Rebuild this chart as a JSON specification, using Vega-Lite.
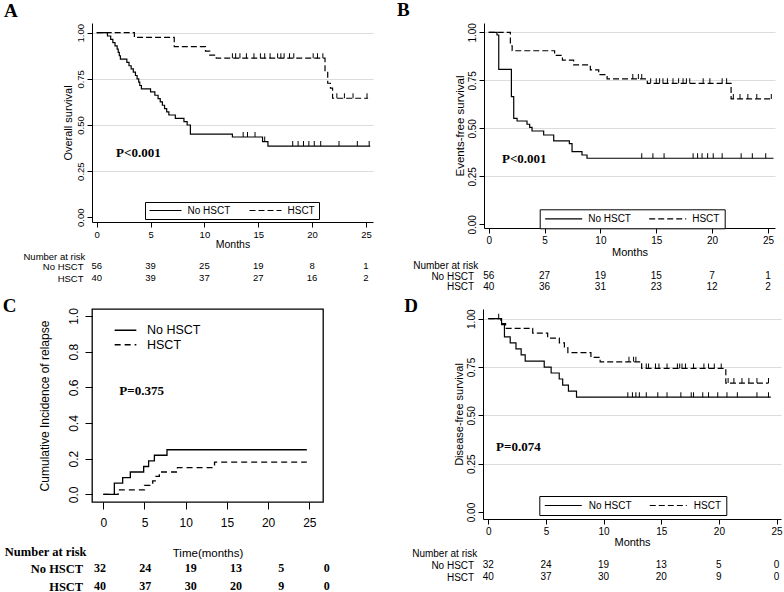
{
  "$schema": "https://vega.github.io/schema/vega-lite/v6.json",
  "background": "white",
  "padding": {"left": 2, "top": 0, "right": 0, "bottom": 0},
  "config": {
    "view": {"stroke": null},
    "font": "Liberation Sans",
    "axis": {"labelColor": "black", "titleColor": "black", "domainColor": "black", "tickColor": "black", "labelFont": "Liberation Sans", "titleFont": "Liberation Sans", "titleFontWeight": "normal", "labelFlush": false, "labelOverlap": false, "grid": false, "domainWidth": 1, "tickWidth": 1},
    "legend": {"labelColor": "black", "labelFont": "Liberation Sans", "gridAlign": "none"},
    "title": {"font": "Liberation Serif", "fontWeight": "bold", "fontSize": 19, "anchor": "start", "frame": "group", "color": "black", "baseline": "alphabetic"},
    "text": {"color": "black"}
  },
  "datasets": {
    "A_curve": [
      {"group": "No HSCT", "time": 0, "surv": 1}, {"group": "No HSCT", "time": 1.0, "surv": 0.982}, {"group": "No HSCT", "time": 1.3, "surv": 0.964}, {"group": "No HSCT", "time": 1.5, "surv": 0.946}, {"group": "No HSCT", "time": 1.7, "surv": 0.929}, {"group": "No HSCT", "time": 1.9, "surv": 0.911}, {"group": "No HSCT", "time": 2.0, "surv": 0.893}, {"group": "No HSCT", "time": 2.1, "surv": 0.875}, {"group": "No HSCT", "time": 2.2, "surv": 0.857}, {"group": "No HSCT", "time": 2.8, "surv": 0.839}, {"group": "No HSCT", "time": 3.0, "surv": 0.821}, {"group": "No HSCT", "time": 3.2, "surv": 0.804}, {"group": "No HSCT", "time": 3.4, "surv": 0.786}, {"group": "No HSCT", "time": 3.6, "surv": 0.768}, {"group": "No HSCT", "time": 3.75, "surv": 0.75}, {"group": "No HSCT", "time": 3.9, "surv": 0.732}, {"group": "No HSCT", "time": 4.0, "surv": 0.714}, {"group": "No HSCT", "time": 4.15, "surv": 0.696}, {"group": "No HSCT", "time": 5.0, "surv": 0.679}, {"group": "No HSCT", "time": 5.4, "surv": 0.661}, {"group": "No HSCT", "time": 5.7, "surv": 0.643}, {"group": "No HSCT", "time": 5.9, "surv": 0.625}, {"group": "No HSCT", "time": 6.1, "surv": 0.607}, {"group": "No HSCT", "time": 6.3, "surv": 0.589}, {"group": "No HSCT", "time": 6.5, "surv": 0.571}, {"group": "No HSCT", "time": 6.7, "surv": 0.554}, {"group": "No HSCT", "time": 7.3, "surv": 0.536}, {"group": "No HSCT", "time": 8.1, "surv": 0.518}, {"group": "No HSCT", "time": 8.4, "surv": 0.5}, {"group": "No HSCT", "time": 8.7, "surv": 0.45}, {"group": "No HSCT", "time": 12.6, "surv": 0.435}, {"group": "No HSCT", "time": 15.4, "surv": 0.41}, {"group": "No HSCT", "time": 15.9, "surv": 0.386}, {"group": "No HSCT", "time": 25.4, "surv": 0.386},
      {"group": "HSCT", "time": 0, "surv": 1}, {"group": "HSCT", "time": 3.5, "surv": 0.975}, {"group": "HSCT", "time": 7.2, "surv": 0.925}, {"group": "HSCT", "time": 10.1, "surv": 0.9}, {"group": "HSCT", "time": 10.5, "surv": 0.878}, {"group": "HSCT", "time": 11.1, "surv": 0.862}, {"group": "HSCT", "time": 21.2, "surv": 0.79}, {"group": "HSCT", "time": 21.45, "surv": 0.726}, {"group": "HSCT", "time": 21.7, "surv": 0.7}, {"group": "HSCT", "time": 21.9, "surv": 0.645}, {"group": "HSCT", "time": 25.2, "surv": 0.645}
    ],
    "A_cens": [
      {"time": 13.6, "surv": 0.435}, {"time": 14.0, "surv": 0.435}, {"time": 14.7, "surv": 0.435}, {"time": 15.6, "surv": 0.41}, {"time": 18.2, "surv": 0.386}, {"time": 18.7, "surv": 0.386}, {"time": 19.2, "surv": 0.386}, {"time": 19.7, "surv": 0.386}, {"time": 20.2, "surv": 0.386}, {"time": 20.8, "surv": 0.386}, {"time": 22.5, "surv": 0.386}, {"time": 24.2, "surv": 0.386}, {"time": 25.3, "surv": 0.386},
      {"time": 12.6, "surv": 0.862}, {"time": 12.9, "surv": 0.862}, {"time": 13.3, "surv": 0.862}, {"time": 13.9, "surv": 0.862}, {"time": 14.6, "surv": 0.862}, {"time": 15.2, "surv": 0.862}, {"time": 15.6, "surv": 0.862}, {"time": 16.1, "surv": 0.862}, {"time": 16.8, "surv": 0.862}, {"time": 17.1, "surv": 0.862}, {"time": 17.4, "surv": 0.862}, {"time": 17.9, "surv": 0.862}, {"time": 18.3, "surv": 0.862}, {"time": 20.1, "surv": 0.862}, {"time": 20.5, "surv": 0.862}, {"time": 21.0, "surv": 0.862}, {"time": 22.3, "surv": 0.645}, {"time": 23.0, "surv": 0.645}, {"time": 23.8, "surv": 0.645}, {"time": 25.1, "surv": 0.645}
    ],
    "A_risk": [
      {"group": "No HSCT", "time": 0, "n": 56}, {"group": "No HSCT", "time": 5, "n": 39}, {"group": "No HSCT", "time": 10, "n": 25}, {"group": "No HSCT", "time": 15, "n": 19}, {"group": "No HSCT", "time": 20, "n": 8}, {"group": "No HSCT", "time": 25, "n": 1},
      {"group": "HSCT", "time": 0, "n": 40}, {"group": "HSCT", "time": 5, "n": 39}, {"group": "HSCT", "time": 10, "n": 37}, {"group": "HSCT", "time": 15, "n": 27}, {"group": "HSCT", "time": 20, "n": 16}, {"group": "HSCT", "time": 25, "n": 2}
    ],
    "B_curve": [
      {"group": "No HSCT", "time": 0, "surv": 1}, {"group": "No HSCT", "time": 0.74, "surv": 0.986}, {"group": "No HSCT", "time": 0.9, "surv": 0.807}, {"group": "No HSCT", "time": 2.03, "surv": 0.665}, {"group": "No HSCT", "time": 2.24, "surv": 0.552}, {"group": "No HSCT", "time": 2.54, "surv": 0.538}, {"group": "No HSCT", "time": 3.43, "surv": 0.521}, {"group": "No HSCT", "time": 3.67, "surv": 0.505}, {"group": "No HSCT", "time": 3.88, "surv": 0.486}, {"group": "No HSCT", "time": 4.92, "surv": 0.465}, {"group": "No HSCT", "time": 5.82, "surv": 0.434}, {"group": "No HSCT", "time": 7.22, "surv": 0.42}, {"group": "No HSCT", "time": 7.46, "surv": 0.378}, {"group": "No HSCT", "time": 8.35, "surv": 0.361}, {"group": "No HSCT", "time": 8.8, "surv": 0.344}, {"group": "No HSCT", "time": 25.5, "surv": 0.344},
      {"group": "HSCT", "time": 0, "surv": 1}, {"group": "HSCT", "time": 1.94, "surv": 0.93}, {"group": "HSCT", "time": 2.1, "surv": 0.904}, {"group": "HSCT", "time": 5.9, "surv": 0.88}, {"group": "HSCT", "time": 6.6, "surv": 0.855}, {"group": "HSCT", "time": 7.6, "surv": 0.83}, {"group": "HSCT", "time": 9.1, "surv": 0.804}, {"group": "HSCT", "time": 9.85, "surv": 0.78}, {"group": "HSCT", "time": 10.6, "surv": 0.757}, {"group": "HSCT", "time": 14.2, "surv": 0.734}, {"group": "HSCT", "time": 21.7, "surv": 0.653}, {"group": "HSCT", "time": 25.4, "surv": 0.653}
    ],
    "B_cens": [
      {"time": 13.7, "surv": 0.344}, {"time": 14.7, "surv": 0.344}, {"time": 15.7, "surv": 0.344}, {"time": 18.3, "surv": 0.344}, {"time": 18.7, "surv": 0.344}, {"time": 19.1, "surv": 0.344}, {"time": 19.6, "surv": 0.344}, {"time": 20.1, "surv": 0.344}, {"time": 20.9, "surv": 0.344}, {"time": 22.6, "surv": 0.344}, {"time": 23.6, "surv": 0.344}, {"time": 24.8, "surv": 0.344},
      {"time": 12.9, "surv": 0.757}, {"time": 13.4, "surv": 0.757}, {"time": 13.7, "surv": 0.757}, {"time": 14.5, "surv": 0.734}, {"time": 15.0, "surv": 0.734}, {"time": 15.3, "surv": 0.734}, {"time": 15.6, "surv": 0.734}, {"time": 16.0, "surv": 0.734}, {"time": 16.5, "surv": 0.734}, {"time": 17.0, "surv": 0.734}, {"time": 17.4, "surv": 0.734}, {"time": 17.7, "surv": 0.734}, {"time": 18.0, "surv": 0.734}, {"time": 19.2, "surv": 0.734}, {"time": 19.8, "surv": 0.734}, {"time": 20.9, "surv": 0.734}, {"time": 21.3, "surv": 0.734}, {"time": 21.9, "surv": 0.653}, {"time": 22.5, "surv": 0.653}, {"time": 23.2, "surv": 0.653}, {"time": 24.0, "surv": 0.653}, {"time": 25.3, "surv": 0.653}
    ],
    "B_risk": [
      {"group": "No HSCT", "time": 0, "n": 56}, {"group": "No HSCT", "time": 5, "n": 27}, {"group": "No HSCT", "time": 10, "n": 19}, {"group": "No HSCT", "time": 15, "n": 15}, {"group": "No HSCT", "time": 20, "n": 7}, {"group": "No HSCT", "time": 25, "n": 1},
      {"group": "HSCT", "time": 0, "n": 40}, {"group": "HSCT", "time": 5, "n": 36}, {"group": "HSCT", "time": 10, "n": 31}, {"group": "HSCT", "time": 15, "n": 23}, {"group": "HSCT", "time": 20, "n": 12}, {"group": "HSCT", "time": 25, "n": 2}
    ],
    "C_curve": [
      {"group": "No HSCT", "time": 0, "surv": 0}, {"group": "No HSCT", "time": 1.34, "surv": 0.0625}, {"group": "No HSCT", "time": 2.35, "surv": 0.094}, {"group": "No HSCT", "time": 3.28, "surv": 0.125}, {"group": "No HSCT", "time": 4.9, "surv": 0.156}, {"group": "No HSCT", "time": 5.5, "surv": 0.1875}, {"group": "No HSCT", "time": 6.2, "surv": 0.219}, {"group": "No HSCT", "time": 7.73, "surv": 0.25}, {"group": "No HSCT", "time": 24.7, "surv": 0.25},
      {"group": "HSCT", "time": 0, "surv": 0}, {"group": "HSCT", "time": 1.8, "surv": 0.025}, {"group": "HSCT", "time": 5.0, "surv": 0.05}, {"group": "HSCT", "time": 6.0, "surv": 0.075}, {"group": "HSCT", "time": 6.4, "surv": 0.1}, {"group": "HSCT", "time": 6.8, "surv": 0.125}, {"group": "HSCT", "time": 9.0, "surv": 0.15}, {"group": "HSCT", "time": 13.5, "surv": 0.18}, {"group": "HSCT", "time": 24.7, "surv": 0.18}
    ],
    "C_risk": [
      {"group": "No HSCT", "time": 0, "n": 32}, {"group": "No HSCT", "time": 5, "n": 24}, {"group": "No HSCT", "time": 10, "n": 19}, {"group": "No HSCT", "time": 15, "n": 13}, {"group": "No HSCT", "time": 20, "n": 5}, {"group": "No HSCT", "time": 25, "n": 0},
      {"group": "HSCT", "time": 0, "n": 40}, {"group": "HSCT", "time": 5, "n": 37}, {"group": "HSCT", "time": 10, "n": 30}, {"group": "HSCT", "time": 15, "n": 20}, {"group": "HSCT", "time": 20, "n": 9}, {"group": "HSCT", "time": 25, "n": 0}
    ],
    "D_curve": [
      {"group": "No HSCT", "time": 0, "surv": 1}, {"group": "No HSCT", "time": 1.15, "surv": 0.969}, {"group": "No HSCT", "time": 1.4, "surv": 0.906}, {"group": "No HSCT", "time": 1.9, "surv": 0.875}, {"group": "No HSCT", "time": 2.4, "surv": 0.844}, {"group": "No HSCT", "time": 2.85, "surv": 0.813}, {"group": "No HSCT", "time": 3.2, "surv": 0.781}, {"group": "No HSCT", "time": 4.85, "surv": 0.75}, {"group": "No HSCT", "time": 5.45, "surv": 0.719}, {"group": "No HSCT", "time": 6.15, "surv": 0.688}, {"group": "No HSCT", "time": 6.45, "surv": 0.656}, {"group": "No HSCT", "time": 6.95, "surv": 0.625}, {"group": "No HSCT", "time": 7.65, "surv": 0.594}, {"group": "No HSCT", "time": 24.5, "surv": 0.594},
      {"group": "HSCT", "time": 0, "surv": 1}, {"group": "HSCT", "time": 1.1, "surv": 0.975}, {"group": "HSCT", "time": 1.5, "surv": 0.95}, {"group": "HSCT", "time": 3.85, "surv": 0.925}, {"group": "HSCT", "time": 5.15, "surv": 0.9}, {"group": "HSCT", "time": 6.16, "surv": 0.875}, {"group": "HSCT", "time": 6.6, "surv": 0.85}, {"group": "HSCT", "time": 6.9, "surv": 0.825}, {"group": "HSCT", "time": 8.9, "surv": 0.8}, {"group": "HSCT", "time": 9.7, "surv": 0.777}, {"group": "HSCT", "time": 13.3, "surv": 0.743}, {"group": "HSCT", "time": 20.6, "surv": 0.667}, {"group": "HSCT", "time": 24.3, "surv": 0.667}
    ],
    "D_cens": [
      {"time": 12.1, "surv": 0.594}, {"time": 12.5, "surv": 0.594}, {"time": 12.8, "surv": 0.594}, {"time": 13.1, "surv": 0.594}, {"time": 13.7, "surv": 0.594}, {"time": 14.7, "surv": 0.594}, {"time": 15.5, "surv": 0.594}, {"time": 16.7, "surv": 0.594}, {"time": 17.6, "surv": 0.594}, {"time": 17.8, "surv": 0.594}, {"time": 18.6, "surv": 0.594}, {"time": 19.1, "surv": 0.594}, {"time": 19.9, "surv": 0.594}, {"time": 20.7, "surv": 0.594}, {"time": 21.6, "surv": 0.594}, {"time": 23.3, "surv": 0.594}, {"time": 24.3, "surv": 0.594},
      {"time": 0.9, "surv": 1}, {"time": 12.2, "surv": 0.777}, {"time": 12.6, "surv": 0.777}, {"time": 12.8, "surv": 0.777}, {"time": 13.7, "surv": 0.743}, {"time": 13.9, "surv": 0.743}, {"time": 14.5, "surv": 0.743}, {"time": 14.8, "surv": 0.743}, {"time": 15.5, "surv": 0.743}, {"time": 16.4, "surv": 0.743}, {"time": 16.6, "surv": 0.743}, {"time": 16.8, "surv": 0.743}, {"time": 17.1, "surv": 0.743}, {"time": 17.8, "surv": 0.743}, {"time": 18.7, "surv": 0.743}, {"time": 19.1, "surv": 0.743}, {"time": 19.6, "surv": 0.743}, {"time": 20.2, "surv": 0.743}, {"time": 20.8, "surv": 0.667}, {"time": 21.3, "surv": 0.667}, {"time": 22.0, "surv": 0.667}, {"time": 22.6, "surv": 0.667}, {"time": 23.3, "surv": 0.667}, {"time": 24.3, "surv": 0.667}
    ],
    "D_risk": [
      {"group": "No HSCT", "time": 0, "n": 32}, {"group": "No HSCT", "time": 5, "n": 24}, {"group": "No HSCT", "time": 10, "n": 19}, {"group": "No HSCT", "time": 15, "n": 13}, {"group": "No HSCT", "time": 20, "n": 5}, {"group": "No HSCT", "time": 25, "n": 0},
      {"group": "HSCT", "time": 0, "n": 40}, {"group": "HSCT", "time": 5, "n": 37}, {"group": "HSCT", "time": 10, "n": 30}, {"group": "HSCT", "time": 15, "n": 20}, {"group": "HSCT", "time": 20, "n": 9}, {"group": "HSCT", "time": 25, "n": 0}
    ]
  },
  "spacing": 4,
  "resolve": {"scale": {"x": "independent", "y": "independent", "strokeDash": "independent"}, "axis": {"x": "independent", "y": "independent"}, "legend": {"strokeDash": "independent"}},
  "vconcat": [
    {
      "spacing": 24,
      "resolve": {"scale": {"x": "independent", "y": "independent", "strokeDash": "independent"}, "axis": {"x": "independent", "y": "independent"}, "legend": {"strokeDash": "independent"}},
      "hconcat": [
        {
          "spacing": 1,
          "resolve": {"scale": {"x": "independent", "y": "independent", "strokeDash": "independent"}, "axis": {"x": "independent", "y": "independent"}, "legend": {"strokeDash": "independent"}},
          "vconcat": [
            {
              "width": 281, "height": 199,
              "title": {"text": "A", "dx": -88, "offset": 2},
              "layer": [
                {"data": {"name": "A_curve"}, "mark": {"type": "line", "interpolate": "step-after", "color": "black", "strokeWidth": 1.2},
                 "encoding": {
                   "x": {"field": "time", "type": "quantitative", "scale": {"domain": [-0.436, 25.655], "nice": false, "zero": false},
                         "axis": {"values": [0, 5, 10, 15, 20, 25], "title": "Months", "titleFontSize": 10.5, "titlePadding": 1, "labelFontSize": 9.5, "labelPadding": 2, "tickSize": 5}},
                   "y": {"field": "surv", "type": "quantitative", "scale": {"domain": [-0.0255, 1.0525], "nice": false, "zero": false},
                         "axis": {"values": [0, 0.25, 0.5, 0.75, 1], "format": ".2f", "title": "Overall survival", "titleFontSize": 11, "titlePadding": 2, "labelFontSize": 9.5, "labelAngle": 270, "labelAlign": "center", "labelBaseline": "bottom", "labelPadding": 2, "tickSize": 5,
                                  "grid": true, "gridColor": "#dcdcdc", "gridOpacity": {"condition": {"test": "datum.value === 0", "value": 0}, "value": 1}}},
                   "strokeDash": {"field": "group", "type": "nominal", "scale": {"domain": ["No HSCT", "HSCT"], "range": [[1, 0], [6, 3]]},
                     "legend": {"orient": "none", "legendX": 53, "legendY": 179, "direction": "horizontal", "title": null, "strokeColor": "black", "fillColor": "white", "padding": 3.5, "clipHeight": 10, "symbolType": "stroke", "symbolSize": 1024, "symbolStrokeWidth": 1.2, "symbolStrokeColor": "black", "labelFontSize": 10, "labelOffset": 5, "columnPadding": 18}}}},
                {"data": {"name": "A_cens"}, "mark": {"type": "tick", "orient": "vertical", "size": 5, "thickness": 1, "color": "black", "opacity": 1, "yOffset": -2.5},
                 "encoding": {
                   "x": {"field": "time", "type": "quantitative", "scale": {"domain": [-0.436, 25.655], "nice": false, "zero": false}, "axis": {"values": [0, 5, 10, 15, 20, 25], "title": "Months"}},
                   "y": {"field": "surv", "type": "quantitative", "scale": {"domain": [-0.0255, 1.0525], "nice": false, "zero": false}, "axis": {"values": [0, 0.25, 0.5, 0.75, 1], "title": "Overall survival"}}}},
                {"data": {"values": [{"label": "P<0.001"}]}, "mark": {"type": "text", "font": "Liberation Serif", "fontWeight": "bold", "fontSize": 13, "align": "left", "baseline": "middle"},
                 "encoding": {"text": {"field": "label", "type": "nominal"},
                   "x": {"datum": 1.8, "type": "quantitative", "axis": {"values": [0, 5, 10, 15, 20, 25], "title": "Months"}},
                   "y": {"datum": 0.35, "type": "quantitative", "axis": {"values": [0, 0.25, 0.5, 0.75, 1], "title": "Overall survival"}}}}
              ]
            },
            {
              "width": 281, "height": 12,
              "data": {"name": "A_risk"},
              "mark": {"type": "text", "fontSize": 9.5, "font": "Liberation Sans"},
              "encoding": {
                "x": {"field": "time", "type": "quantitative", "scale": {"domain": [-0.436, 25.655], "nice": false, "zero": false}, "axis": null},
                "y": {"field": "group", "type": "nominal", "scale": {"type": "point", "domain": ["No HSCT", "HSCT"], "padding": 0},
                      "axis": {"domain": false, "ticks": false, "labelPadding": 9, "labelFontSize": 9.5, "title": "Number at risk", "titleAngle": 0, "titleAlign": "left", "titleBaseline": "middle", "titleX": -69, "titleY": -10, "titleFontSize": 9.5}},
                "text": {"field": "n", "type": "quantitative"}
              }
            }
          ]
        },
        {
          "spacing": 3,
          "resolve": {"scale": {"x": "independent", "y": "independent", "strokeDash": "independent"}, "axis": {"x": "independent", "y": "independent"}, "legend": {"strokeDash": "independent"}},
          "vconcat": [
            {
              "width": 291, "height": 205,
              "title": {"text": "B", "dx": -87, "offset": 2.8},
              "layer": [
                {"data": {"name": "B_curve"}, "mark": {"type": "line", "interpolate": "step-after", "color": "black", "strokeWidth": 1.2},
                 "encoding": {
                   "x": {"field": "time", "type": "quantitative", "scale": {"domain": [-0.421, 25.631], "nice": false, "zero": false},
                         "axis": {"values": [0, 5, 10, 15, 20, 25], "title": "Months", "titleFontSize": 11, "titlePadding": 1, "labelFontSize": 10, "labelPadding": 2, "tickSize": 5}},
                   "y": {"field": "surv", "type": "quantitative", "scale": {"domain": [-0.0193, 1.0484], "nice": false, "zero": false},
                         "axis": {"values": [0, 0.25, 0.5, 0.75, 1], "format": ".2f", "title": "Events-free survival", "titleFontSize": 11.5, "titlePadding": 2, "labelFontSize": 10, "labelAngle": 270, "labelAlign": "center", "labelBaseline": "bottom", "labelPadding": 2, "tickSize": 5,
                                  "grid": true, "gridColor": "#dcdcdc", "gridOpacity": {"condition": {"test": "datum.value === 0", "value": 0}, "value": 1}}},
                   "strokeDash": {"field": "group", "type": "nominal", "scale": {"domain": ["No HSCT", "HSCT"], "range": [[1, 0], [6, 3]]},
                     "legend": {"orient": "none", "legendX": 55.7, "legendY": 186.3, "direction": "horizontal", "title": null, "strokeColor": "black", "fillColor": "white", "padding": 4.5, "clipHeight": 10, "symbolType": "stroke", "symbolSize": 1369, "symbolStrokeWidth": 1.2, "symbolStrokeColor": "black", "labelFontSize": 10, "labelOffset": 5, "columnPadding": 17}}}},
                {"data": {"name": "B_cens"}, "mark": {"type": "tick", "orient": "vertical", "size": 5, "thickness": 1, "color": "black", "opacity": 1, "yOffset": -2.5},
                 "encoding": {
                   "x": {"field": "time", "type": "quantitative", "scale": {"domain": [-0.421, 25.631], "nice": false, "zero": false}, "axis": {"values": [0, 5, 10, 15, 20, 25], "title": "Months"}},
                   "y": {"field": "surv", "type": "quantitative", "scale": {"domain": [-0.0193, 1.0484], "nice": false, "zero": false}, "axis": {"values": [0, 0.25, 0.5, 0.75, 1], "title": "Events-free survival"}}}},
                {"data": {"values": [{"label": "P<0.001"}]}, "mark": {"type": "text", "font": "Liberation Serif", "fontWeight": "bold", "fontSize": 13, "align": "left", "baseline": "middle"},
                 "encoding": {"text": {"field": "label", "type": "nominal"},
                   "x": {"datum": 1.19, "type": "quantitative", "axis": {"values": [0, 5, 10, 15, 20, 25], "title": "Months"}},
                   "y": {"datum": 0.339, "type": "quantitative", "axis": {"values": [0, 0.25, 0.5, 0.75, 1], "title": "Events-free survival"}}}}
              ]
            },
            {
              "width": 291, "height": 10.6,
              "data": {"name": "B_risk"},
              "mark": {"type": "text", "fontSize": 10, "font": "Liberation Sans"},
              "encoding": {
                "x": {"field": "time", "type": "quantitative", "scale": {"domain": [-0.421, 25.631], "nice": false, "zero": false}, "axis": null},
                "y": {"field": "group", "type": "nominal", "scale": {"type": "point", "domain": ["No HSCT", "HSCT"], "padding": 0},
                      "axis": {"domain": false, "ticks": false, "labelPadding": 10.3, "labelFontSize": 10, "title": "Number at risk", "titleAngle": 0, "titleAlign": "left", "titleBaseline": "middle", "titleX": -71.3, "titleY": -10.7, "titleFontSize": 10}},
                "text": {"field": "n", "type": "quantitative"}
              }
            }
          ]
        }
      ]
    },
    {
      "spacing": 74,
      "resolve": {"scale": {"x": "independent", "y": "independent", "strokeDash": "independent"}, "axis": {"x": "independent", "y": "independent"}, "legend": {"strokeDash": "independent"}},
      "hconcat": [
        {
          "spacing": 16,
          "resolve": {"scale": {"x": "independent", "y": "independent", "strokeDash": "independent"}, "axis": {"x": "independent", "y": "independent"}, "legend": {"strokeDash": "independent"}},
          "vconcat": [
            {
              "width": 231, "height": 193,
              "view": {"stroke": "black", "strokeWidth": 1.3},
              "title": {"text": "C", "dx": -89.3, "offset": -8.5},
              "layer": [
                {"data": {"name": "C_curve"}, "mark": {"type": "line", "interpolate": "step-after", "color": "black", "strokeWidth": 1.3},
                 "encoding": {
                   "x": {"field": "time", "type": "quantitative", "scale": {"domain": [-1.371, 26.663], "nice": false, "zero": false},
                         "axis": {"values": [0, 5, 10, 15, 20, 25], "title": null, "labelFontSize": 12, "labelPadding": 8, "tickSize": 7, "domain": false}},
                   "y": {"field": "surv", "type": "quantitative", "scale": {"domain": [-0.0432, 1.0393], "nice": false, "zero": false},
                         "axis": {"values": [0, 0.2, 0.4, 0.6, 0.8, 1], "format": ".1f", "title": "Cumulative Incidence of relapse", "titleFontSize": 12, "titlePadding": 16, "labelFontSize": 12, "labelAngle": 270, "labelAlign": "center", "labelBaseline": "bottom", "labelPadding": 5, "tickSize": 7, "domain": false}},
                   "strokeDash": {"field": "group", "type": "nominal", "scale": {"domain": ["No HSCT", "HSCT"], "range": [[1, 0], [6, 4]]},
                     "legend": {"orient": "none", "legendX": 22, "legendY": 15, "direction": "vertical", "title": null, "padding": 0, "clipHeight": 12.5, "symbolType": "stroke", "symbolSize": 470, "symbolStrokeWidth": 1.3, "symbolStrokeColor": "black", "labelFontSize": 12.5, "labelOffset": 10, "rowPadding": 1.5}}}},
                {"data": {"values": [{"label": "P=0.375"}]}, "mark": {"type": "text", "font": "Liberation Serif", "fontWeight": "bold", "fontSize": 13, "align": "left", "baseline": "middle"},
                 "encoding": {"text": {"field": "label", "type": "nominal"},
                   "x": {"datum": 1.94, "type": "quantitative", "axis": {"values": [0, 5, 10, 15, 20, 25], "title": null}},
                   "y": {"datum": 0.579, "type": "quantitative", "axis": {"values": [0, 0.2, 0.4, 0.6, 0.8, 1], "title": "Cumulative Incidence of relapse"}}}}
              ]
            },
            {
              "width": 231, "height": 18,
              "data": {"name": "C_risk"},
              "mark": {"type": "text", "fontSize": 12, "font": "Liberation Serif", "fontWeight": "bold"},
              "encoding": {
                "x": {"field": "time", "type": "quantitative", "scale": {"domain": [-0.882, 24.59], "nice": false, "zero": false},
                      "axis": {"orient": "top", "labels": false, "ticks": false, "domain": false, "title": "Time(months)", "titleFontSize": 11.5, "titlePadding": 10}},
                "y": {"field": "group", "type": "nominal", "scale": {"type": "point", "domain": ["No HSCT", "HSCT"], "padding": 0},
                      "axis": {"domain": false, "ticks": false, "labelPadding": 9.3, "labelFontSize": 12.5, "labelFont": "Liberation Serif", "labelFontWeight": "bold", "title": "Number at risk", "titleFont": "Liberation Serif", "titleFontWeight": "bold", "titleFontSize": 12.5, "titleAngle": 0, "titleAlign": "left", "titleBaseline": "middle", "titleX": -87.7, "titleY": -16.3}},
                "text": {"field": "n", "type": "quantitative"}
              }
            }
          ]
        },
        {
          "spacing": 1,
          "resolve": {"scale": {"x": "independent", "y": "independent", "strokeDash": "independent"}, "axis": {"x": "independent", "y": "independent"}, "legend": {"strokeDash": "independent"}},
          "vconcat": [
            {
              "width": 298, "height": 210,
              "title": {"text": "D", "dx": -78.7, "offset": -7.2},
              "layer": [
                {"data": {"name": "D_curve"}, "mark": {"type": "line", "interpolate": "step-after", "color": "black", "strokeWidth": 1.2},
                 "encoding": {
                   "x": {"field": "time", "type": "quantitative", "scale": {"domain": [-0.46, 25.386], "nice": false, "zero": false},
                         "axis": {"values": [0, 5, 10, 15, 20, 25], "title": "Months", "titleFontSize": 11, "titlePadding": 0, "labelFontSize": 10, "labelPadding": 2, "tickSize": 5}},
                   "y": {"field": "surv", "type": "quantitative", "scale": {"domain": [-0.0362, 1.0502], "nice": false, "zero": false},
                         "axis": {"values": [0, 0.25, 0.5, 0.75, 1], "format": ".2f", "title": "Disease-free survival", "titleFontSize": 11, "titlePadding": 2, "labelFontSize": 10, "labelAngle": 270, "labelAlign": "center", "labelBaseline": "bottom", "labelPadding": 2, "tickSize": 5,
                                  "grid": true, "gridColor": "#dcdcdc", "gridOpacity": {"condition": {"test": "datum.value === 0", "value": 0}, "value": 1}}},
                   "strokeDash": {"field": "group", "type": "nominal", "scale": {"domain": ["No HSCT", "HSCT"], "range": [[1, 0], [6, 3]]},
                     "legend": {"orient": "none", "legendX": 56.3, "legendY": 187, "direction": "horizontal", "title": null, "strokeColor": "black", "fillColor": "white", "padding": 4.5, "clipHeight": 10, "symbolType": "stroke", "symbolSize": 1369, "symbolStrokeWidth": 1.2, "symbolStrokeColor": "black", "labelFontSize": 10, "labelOffset": 6, "columnPadding": 17}}}},
                {"data": {"name": "D_cens"}, "mark": {"type": "tick", "orient": "vertical", "size": 5, "thickness": 1, "color": "black", "opacity": 1, "yOffset": -2.5},
                 "encoding": {
                   "x": {"field": "time", "type": "quantitative", "scale": {"domain": [-0.46, 25.386], "nice": false, "zero": false}, "axis": {"values": [0, 5, 10, 15, 20, 25], "title": "Months"}},
                   "y": {"field": "surv", "type": "quantitative", "scale": {"domain": [-0.0362, 1.0502], "nice": false, "zero": false}, "axis": {"values": [0, 0.25, 0.5, 0.75, 1], "title": "Disease-free survival"}}}},
                {"data": {"values": [{"label": "P=0.074"}]}, "mark": {"type": "text", "font": "Liberation Serif", "fontWeight": "bold", "fontSize": 13, "align": "left", "baseline": "middle"},
                 "encoding": {"text": {"field": "label", "type": "nominal"},
                   "x": {"datum": 0.67, "type": "quantitative", "axis": {"values": [0, 5, 10, 15, 20, 25], "title": "Months"}},
                   "y": {"datum": 0.336, "type": "quantitative", "axis": {"values": [0, 0.25, 0.5, 0.75, 1], "title": "Disease-free survival"}}}}
              ]
            },
            {
              "width": 298, "height": 12,
              "data": {"name": "D_risk"},
              "mark": {"type": "text", "fontSize": 10, "font": "Liberation Sans"},
              "encoding": {
                "x": {"field": "time", "type": "quantitative", "scale": {"domain": [-0.46, 25.386], "nice": false, "zero": false}, "axis": null},
                "y": {"field": "group", "type": "nominal", "scale": {"type": "point", "domain": ["No HSCT", "HSCT"], "padding": 0},
                      "axis": {"domain": false, "ticks": false, "labelPadding": 9.3, "labelFontSize": 10, "title": "Number at risk", "titleAngle": 0, "titleAlign": "left", "titleBaseline": "middle", "titleX": -71.3, "titleY": -11.7, "titleFontSize": 10}},
                "text": {"field": "n", "type": "quantitative"}
              }
            }
          ]
        }
      ]
    }
  ]
}
